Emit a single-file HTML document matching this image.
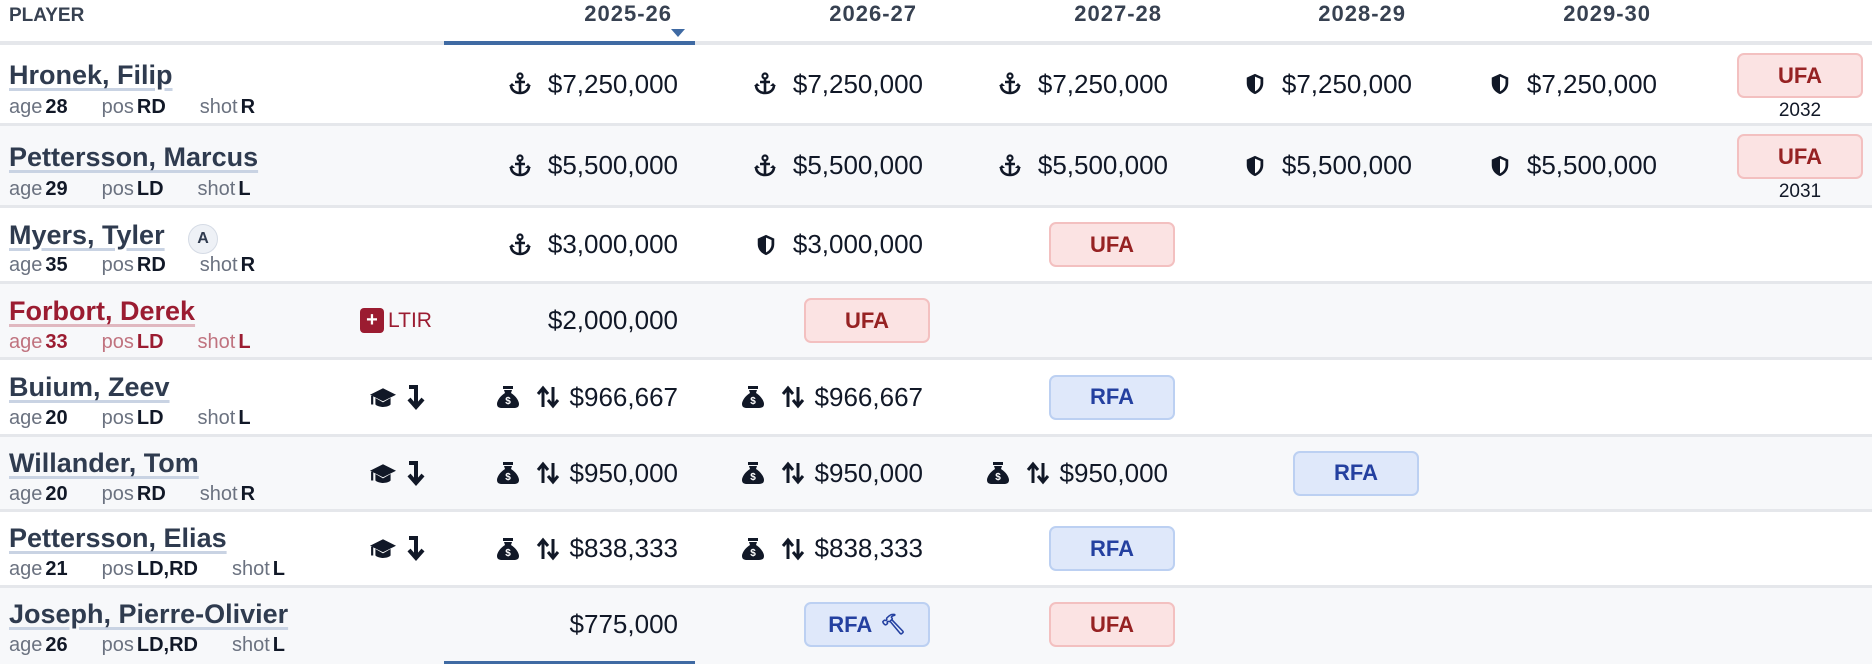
<!DOCTYPE html>
<html><head><meta charset="utf-8"><style>
*{margin:0;padding:0;box-sizing:border-box}
body{width:1872px;height:664px;background:#fff;font-family:"Liberation Sans",sans-serif;color:#111827;position:relative;overflow:hidden}
.abs{position:absolute}
.hdr{position:absolute;top:0;height:44px;font-weight:bold;color:#374151}
.row{position:absolute;left:0;width:1872px;border-bottom:3px solid #e5e7eb}
.alt{background:#f7f8fa}
.name{position:absolute;left:9px;font-weight:bold;font-size:27px;color:#2f3b4f;text-decoration:underline;text-decoration-color:#c9d3e3;text-decoration-thickness:3px;text-underline-offset:4px;white-space:nowrap}
.sub{position:absolute;left:9px;font-size:20px;color:#6b7280;white-space:nowrap}
.sub b{color:#111827;margin-left:3px;margin-right:34px}
.cell{position:absolute;top:0;bottom:0;width:245px;display:flex;align-items:center;justify-content:flex-end;padding-right:11px;font-size:26px;white-space:nowrap}
.ic{display:inline-block;margin-right:16px;font-size:24px}
.badge{display:flex;align-items:center;justify-content:center;width:126px;height:45px;border-radius:7px;font-weight:bold;font-size:22px}
.ufa{background:#fbe3e3;border:2px solid #f3c0c0;color:#962223}
.rfa{background:#dfe8fa;border:2px solid #bcd0f2;color:#2440a0}
.bc{padding-right:4px}
</style></head><body>
<div class="hdr" style="left:9px;top:5px;font-size:19px">PLAYER</div>
<div class="hdr" style="left:444px;width:228px;text-align:right;top:1px;font-size:22px;letter-spacing:1px">2025-26</div>
<div class="hdr" style="left:689px;width:228px;text-align:right;top:1px;font-size:22px;letter-spacing:1px">2026-27</div>
<div class="hdr" style="left:934px;width:228px;text-align:right;top:1px;font-size:22px;letter-spacing:1px">2027-28</div>
<div class="hdr" style="left:1178px;width:228px;text-align:right;top:1px;font-size:22px;letter-spacing:1px">2028-29</div>
<div class="hdr" style="left:1423px;width:228px;text-align:right;top:1px;font-size:22px;letter-spacing:1px">2029-30</div>
<div class="abs" style="left:671px;top:29px;width:0;height:0;border-left:7px solid transparent;border-right:7px solid transparent;border-top:8px solid #3f6aa3"></div>
<div class="abs" style="left:0;top:41px;width:1872px;height:4px;background:#e5e7eb"></div>
<div class="abs" style="left:444px;top:41px;width:251px;height:4px;background:#3f6aa3;z-index:2"></div>

<svg width="0" height="0" style="position:absolute">
<defs>
<symbol id="anc" viewBox="0 0 24 24"><circle cx="12" cy="4" r="2.5" fill="none" stroke="#111827" stroke-width="2.2"/><path d="M12 6.5V21M7 10h10M3 13c0 5 4 8 9 8s9-3 9-8" fill="none" stroke="#111827" stroke-width="2.6"/><path d="M1 14l3-3 3 3zM17 14l3-3 3 3z" fill="#111827"/></symbol>
<symbol id="shd" viewBox="0 0 24 24"><path d="M12 1L3 5v6c0 6 4 10 9 12 5-2 9-6 9-12V5z" fill="#111827"/><path d="M12 4l6 2.5V11c0 4.5-3 7.5-6 9z" fill="#fff"/></symbol>
<symbol id="bag" viewBox="0 0 24 24"><rect x="7" y="1" width="10" height="3" fill="#111827"/><path d="M8 5h8l-1 3c5 3 8 8 8 11 0 3-2 4-5 4H6c-3 0-5-1-5-4 0-3 3-8 8-11z" fill="#111827"/><text x="12" y="19" font-size="10" font-weight="bold" fill="#fff" text-anchor="middle" font-family="Liberation Sans">$</text></symbol>
<symbol id="arr" viewBox="0 0 24 24"><path d="M7 22V4M2 9l5-6 5 6M17 2v18M12 15l5 6 5-6" fill="none" stroke="#111827" stroke-width="3"/></symbol>
<symbol id="cap" viewBox="0 0 24 24"><path d="M12 3L0 9l12 6 12-6z" fill="#111827"/><path d="M5 12v6c3 3 11 3 14 0v-6l-7 4z" fill="#111827"/><path d="M2 10v8" stroke="#111827" stroke-width="2"/></symbol>
<symbol id="dn" viewBox="0 0 24 24"><path d="M5 2h7v18M5 14l7 8 7-8" fill="none" stroke="#111827" stroke-width="4"/></symbol>
</defs></svg>

<!-- Row 1 -->
<div class="row" style="top:45px;height:81px">
<div class="name" style="top:15px">Hronek, Filip</div>
<div class="sub" style="top:51px">age<b>28</b>pos<b>RD</b>shot<b>R</b></div>
<div class="cell" style="left:444px"><svg class="ic" width="24" height="24"><use href="#anc"/></svg>$7,250,000</div>
<div class="cell" style="left:689px"><svg class="ic" width="24" height="24"><use href="#anc"/></svg>$7,250,000</div>
<div class="cell" style="left:934px"><svg class="ic" width="24" height="24"><use href="#anc"/></svg>$7,250,000</div>
<div class="cell" style="left:1178px"><svg class="ic" width="22" height="22"><use href="#shd"/></svg>$7,250,000</div>
<div class="cell" style="left:1423px"><svg class="ic" width="22" height="22"><use href="#shd"/></svg>$7,250,000</div>
<div class="abs ufa badge" style="left:1737px;top:8px">UFA</div>
<div class="abs" style="left:1737px;width:126px;text-align:center;top:55px;font-size:19px">2032</div>
</div>
<!-- Row 2 -->
<div class="row alt" style="top:126px;height:82px">
<div class="name" style="top:16px">Pettersson, Marcus</div>
<div class="sub" style="top:52px">age<b>29</b>pos<b>LD</b>shot<b>L</b></div>
<div class="cell" style="left:444px"><svg class="ic" width="24" height="24"><use href="#anc"/></svg>$5,500,000</div>
<div class="cell" style="left:689px"><svg class="ic" width="24" height="24"><use href="#anc"/></svg>$5,500,000</div>
<div class="cell" style="left:934px"><svg class="ic" width="24" height="24"><use href="#anc"/></svg>$5,500,000</div>
<div class="cell" style="left:1178px"><svg class="ic" width="22" height="22"><use href="#shd"/></svg>$5,500,000</div>
<div class="cell" style="left:1423px"><svg class="ic" width="22" height="22"><use href="#shd"/></svg>$5,500,000</div>
<div class="abs ufa badge" style="left:1737px;top:8px">UFA</div>
<div class="abs" style="left:1737px;width:126px;text-align:center;top:55px;font-size:19px">2031</div>
</div>
<!-- Row 3 -->
<div class="row" style="top:208px;height:76px">
<div class="name" style="top:12px">Myers, Tyler</div>
<div class="abs" style="left:188px;top:16px;width:30px;height:30px;border-radius:50%;background:#eef1f6;border:1px solid #d5dbe5;font-size:16px;font-weight:bold;display:flex;align-items:center;justify-content:center;color:#2f3b4f">A</div>
<div class="sub" style="top:46px">age<b>35</b>pos<b>RD</b>shot<b>R</b></div>
<div class="cell" style="left:444px"><svg class="ic" width="24" height="24"><use href="#anc"/></svg>$3,000,000</div>
<div class="cell" style="left:689px"><svg class="ic" width="22" height="22"><use href="#shd"/></svg>$3,000,000</div>
<div class="cell bc" style="left:934px"><div class="badge ufa">UFA</div></div>
</div>
<!-- Row 4 -->
<div class="row alt" style="top:284px;height:76px">
<div class="name" style="top:12px;color:#9b1c31;text-decoration-color:#e0b8c0">Forbort, Derek</div>
<div class="sub" style="top:47px;color:#c0737f">age<b style="color:#9b1c31">33</b>pos<b style="color:#9b1c31">LD</b>shot<b style="color:#9b1c31">L</b></div>
<div class="abs" style="left:360px;top:24px;width:24px;height:25px;background:#9b1c31;border-radius:4px;color:#fff;font-size:20px;font-weight:bold;line-height:25px;text-align:center">+</div>
<div class="abs" style="left:388px;top:25px;font-size:21px;color:#9b1c31">LTIR</div>
<div class="cell" style="left:444px">$2,000,000</div>
<div class="cell bc" style="left:689px"><div class="badge ufa">UFA</div></div>
</div>
<!-- Row 5 -->
<div class="row" style="top:360px;height:77px">
<div class="name" style="top:12px">Buium, Zeev</div>
<div class="sub" style="top:47px">age<b>20</b>pos<b>LD</b>shot<b>L</b></div>
<svg class="abs" style="left:370px;top:25px" width="26" height="26"><use href="#cap"/></svg>
<svg class="abs" style="left:404px;top:22px" width="24" height="30"><use href="#dn"/></svg>
<div class="cell" style="left:444px"><svg class="ic" width="24" height="24"><use href="#bag"/></svg><svg class="ic" width="24" height="24" style="margin-right:10px"><use href="#arr"/></svg>$966,667</div>
<div class="cell" style="left:689px"><svg class="ic" width="24" height="24"><use href="#bag"/></svg><svg class="ic" width="24" height="24" style="margin-right:10px"><use href="#arr"/></svg>$966,667</div>
<div class="cell bc" style="left:934px"><div class="badge rfa">RFA</div></div>
</div>
<!-- Row 6 -->
<div class="row alt" style="top:437px;height:75px">
<div class="name" style="top:11px">Willander, Tom</div>
<div class="sub" style="top:46px">age<b>20</b>pos<b>RD</b>shot<b>R</b></div>
<svg class="abs" style="left:370px;top:24px" width="26" height="26"><use href="#cap"/></svg>
<svg class="abs" style="left:404px;top:21px" width="24" height="30"><use href="#dn"/></svg>
<div class="cell" style="left:444px"><svg class="ic" width="24" height="24"><use href="#bag"/></svg><svg class="ic" width="24" height="24" style="margin-right:10px"><use href="#arr"/></svg>$950,000</div>
<div class="cell" style="left:689px"><svg class="ic" width="24" height="24"><use href="#bag"/></svg><svg class="ic" width="24" height="24" style="margin-right:10px"><use href="#arr"/></svg>$950,000</div>
<div class="cell" style="left:934px"><svg class="ic" width="24" height="24"><use href="#bag"/></svg><svg class="ic" width="24" height="24" style="margin-right:10px"><use href="#arr"/></svg>$950,000</div>
<div class="cell bc" style="left:1178px"><div class="badge rfa">RFA</div></div>
</div>
<!-- Row 7 -->
<div class="row" style="top:512px;height:76px">
<div class="name" style="top:11px">Pettersson, Elias</div>
<div class="sub" style="top:46px">age<b>21</b>pos<b>LD,RD</b>shot<b>L</b></div>
<svg class="abs" style="left:370px;top:24px" width="26" height="26"><use href="#cap"/></svg>
<svg class="abs" style="left:404px;top:21px" width="24" height="30"><use href="#dn"/></svg>
<div class="cell" style="left:444px"><svg class="ic" width="24" height="24"><use href="#bag"/></svg><svg class="ic" width="24" height="24" style="margin-right:10px"><use href="#arr"/></svg>$838,333</div>
<div class="cell" style="left:689px"><svg class="ic" width="24" height="24"><use href="#bag"/></svg><svg class="ic" width="24" height="24" style="margin-right:10px"><use href="#arr"/></svg>$838,333</div>
<div class="cell bc" style="left:934px"><div class="badge rfa">RFA</div></div>
</div>
<!-- Row 8 -->
<div class="row alt" style="top:588px;height:76px;border-bottom:none">
<div class="name" style="top:11px">Joseph, Pierre-Olivier</div>
<div class="sub" style="top:46px">age<b>26</b>pos<b>LD,RD</b>shot<b>L</b></div>
<div class="cell" style="left:444px;bottom:3px">$775,000</div>
<div class="cell bc" style="left:689px;bottom:3px"><div class="badge rfa">RFA <span style="margin-left:8px;font-size:20px">&#x1F528;&#xFE0E;</span></div></div>
<div class="cell bc" style="left:934px;bottom:3px"><div class="badge ufa">UFA</div></div>
</div>
<div class="abs" style="left:444px;top:661px;width:251px;height:3px;background:#3f6aa3"></div>
</body></html>
